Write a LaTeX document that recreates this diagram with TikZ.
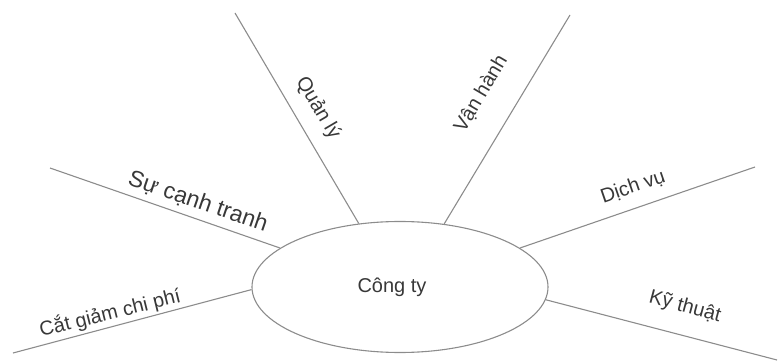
\documentclass[tikz,border=0pt]{standalone}
\usepackage{fontspec}
\setmainfont{Liberation Sans}
\usetikzlibrary{shapes.geometric}

\begin{document}
\begin{tikzpicture}[
        x=1pt, y=1pt,
        every node/.style={font=\fontsize{20}{24}\selectfont, text=black!78},
        branch/.style={draw=black!45, line width=1.1pt}
    ]
    \useasboundingbox (0,0) rectangle (780,362);
    \node[ellipse, branch, minimum width=296pt, minimum height=131pt] (cty) at (400,75) {Công ty\kern16pt};
    \coordinate (csc) at (50,194);
    \coordinate (cg) at (13,9);
    \coordinate (ql) at (235,349);
    \coordinate (vh) at (570,347);
    \coordinate (dv) at (755,195);
    \coordinate (kt) at (777,2);
    \draw[branch] (csc) -- (cty.162);
    \draw[branch] (cg) -- (cty.181);
    \draw[branch] (ql) -- (cty.123);
    \draw[branch] (vh) -- (cty.55);
    \draw[branch] (dv) -- (cty.18);
    \draw[branch] (kt) -- (cty.-5);
    \node[rotate=-19, font=\fontsize{23}{27}\selectfont] (tcsc) at (198,160) {Sự cạnh tranh};
    \node[rotate=14] (tcg) at (110,49) {Cắt giảm chi phí};
    \node[rotate=-59.5] (tql) at (318,254) {Quản lý};
    \node[rotate=59.5] (tvh) at (481,268) {Vận hành};
    \node[rotate=19] (tdv) at (633,175) {Dịch vụ};
    \node[rotate=-15] (tkt) at (685,55) {Kỹ thuật};
\end{tikzpicture}
\end{document}
